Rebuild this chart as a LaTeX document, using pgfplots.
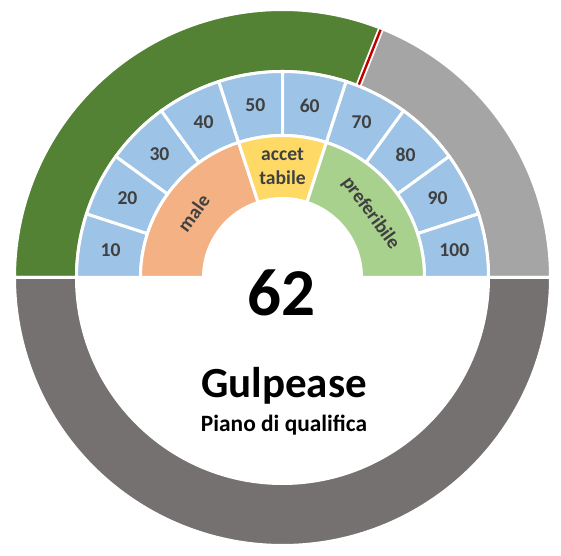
\documentclass[border=0pt]{standalone}
\usepackage{pgfplots}
\usepackage{pgfplotstable}
\pgfplotsset{compat=1.18}
\usepackage{fontspec}
\setmainfont{Carlito}
\definecolor{gGreen}{HTML}{548235}
\definecolor{gGray}{HTML}{A5A5A5}
\definecolor{gDark}{HTML}{767171}
\definecolor{gBlue}{HTML}{9DC3E6}
\definecolor{gOrange}{HTML}{F4B183}
\definecolor{gYellow}{HTML}{FFD966}
\definecolor{gLGreen}{HTML}{A9D18E}
\definecolor{gText}{HTML}{404040}
\definecolor{gRed}{HTML}{C00000}

% value shown by the gauge
\def\gaugevalue{62}

% ring segments: from/to in gauge percent (0..100 upper half, 100..200 lower half)
\pgfplotstableread{
from to rin rout col
0 62 206 268 gGreen
62 100 206 268 gGray
100 200 206 268 gDark
0 10 142 206 gBlue
10 20 142 206 gBlue
20 30 142 206 gBlue
30 40 142 206 gBlue
40 50 142 206 gBlue
50 60 142 206 gBlue
60 70 142 206 gBlue
70 80 142 206 gBlue
80 90 142 206 gBlue
90 100 142 206 gBlue
0 40 79 142 gOrange
40 60 79 142 gYellow
60 100 79 142 gLGreen
}\segments

\pgfplotstableread{
pos lab
5 10
15 20
25 30
35 40
45 50
55 60
65 70
75 80
85 90
95 100
}\midlabels

\newcommand\gwedge[5]{%
  \pgfmathsetmacro\aA{180-1.8*#1}%
  \pgfmathsetmacro\aB{180-1.8*#2}%
  \fill[#5,draw=white,line width=3bp,line join=miter]
    (\aA:#4bp) arc[start angle=\aA,end angle=\aB,radius=#4bp]
    -- (\aB:#3bp) arc[start angle=\aB,end angle=\aA,radius=#3bp] -- cycle;%
}

\begin{document}
\begin{tikzpicture}
\begin{axis}[
  x=1bp, y=1bp,
  xmin=-282.5, xmax=278.5, ymin=-278.5, ymax=277.5,
  hide axis, clip=false, scale only axis,
]
\addplot[draw=none] coordinates {(0,0)};
\coordinate (bbSW) at (axis cs:-282.5,-278.5);
\coordinate (bbNE) at (axis cs:278.5,277.5);
\pgfplotsextra{%
\begin{scope}[shift={(axis cs:0,0)}]
  \pgfplotstablegetrowsof{\segments}%
  \pgfmathtruncatemacro\nseg{\pgfplotsretval-1}%
  \foreach \i in {0,...,\nseg}{%
    \pgfplotstablegetelem{\i}{from}\of\segments \let\vA\pgfplotsretval
    \pgfplotstablegetelem{\i}{to}\of\segments \let\vB\pgfplotsretval
    \pgfplotstablegetelem{\i}{rin}\of\segments \let\rI\pgfplotsretval
    \pgfplotstablegetelem{\i}{rout}\of\segments \let\rO\pgfplotsretval
    \pgfplotstablegetelem{\i}{col}\of\segments \let\cC\pgfplotsretval
    \gwedge{\vA}{\vB}{\rI}{\rO}{\cC}%
  }
  % needle
  \pgfmathsetmacro\aV{180-1.8*\gaugevalue}
  \draw[white,line width=6bp] (\aV:207.5bp) -- (\aV:266.5bp);
  \draw[gRed,line width=2.4bp] (\aV:207.5bp) -- (\aV:266.5bp);
  % tick labels
  \pgfplotstablegetrowsof{\midlabels}%
  \pgfmathtruncatemacro\nlab{\pgfplotsretval-1}%
  \foreach \i in {0,...,\nlab}{%
    \pgfplotstablegetelem{\i}{pos}\of\midlabels \let\pP\pgfplotsretval
    \pgfplotstablegetelem{\i}{lab}\of\midlabels \let\lL\pgfplotsretval
    \pgfmathsetmacro\aL{180-1.8*\pP}
    \node[text=gText,font=\fontsize{19.6bp}{22bp}\selectfont\bfseries,inner sep=0pt]
      at (\aL:174bp) {\lL};
  }
  % inner labels
  \node[text=gText,font=\fontsize{19.6bp}{22bp}\selectfont\bfseries,inner sep=0pt,rotate=54]
    at (144:110bp) {male};
  \node[text=gText,font=\fontsize{19.6bp}{23.3bp}\selectfont\bfseries,inner sep=0pt,align=center]
    at (90:111bp) {accet\\tabile};
  \node[text=gText,font=\fontsize{19.6bp}{22bp}\selectfont\bfseries,inner sep=0pt,rotate=-54]
    at (36:109bp) {preferibile};
  % centre texts
  \node[anchor=base,inner sep=0pt,font=\fontsize{67bp}{70bp}\selectfont\bfseries]
    at (-1bp,-38.5bp) {\gaugevalue};
  \node[anchor=base,inner sep=0pt,font=\fontsize{43bp}{46bp}\selectfont\bfseries]
    at (1.5bp,-120.5bp) {Gulpease};
  \node[anchor=base,inner sep=0pt,font=\fontsize{23.4bp}{26bp}\selectfont\bfseries]
    at (1.5bp,-154bp) {Piano di qualifica};
\end{scope}
}
\end{axis}
\pgfresetboundingbox
\path[use as bounding box] (bbSW) rectangle (bbNE);
\end{tikzpicture}
\end{document}
